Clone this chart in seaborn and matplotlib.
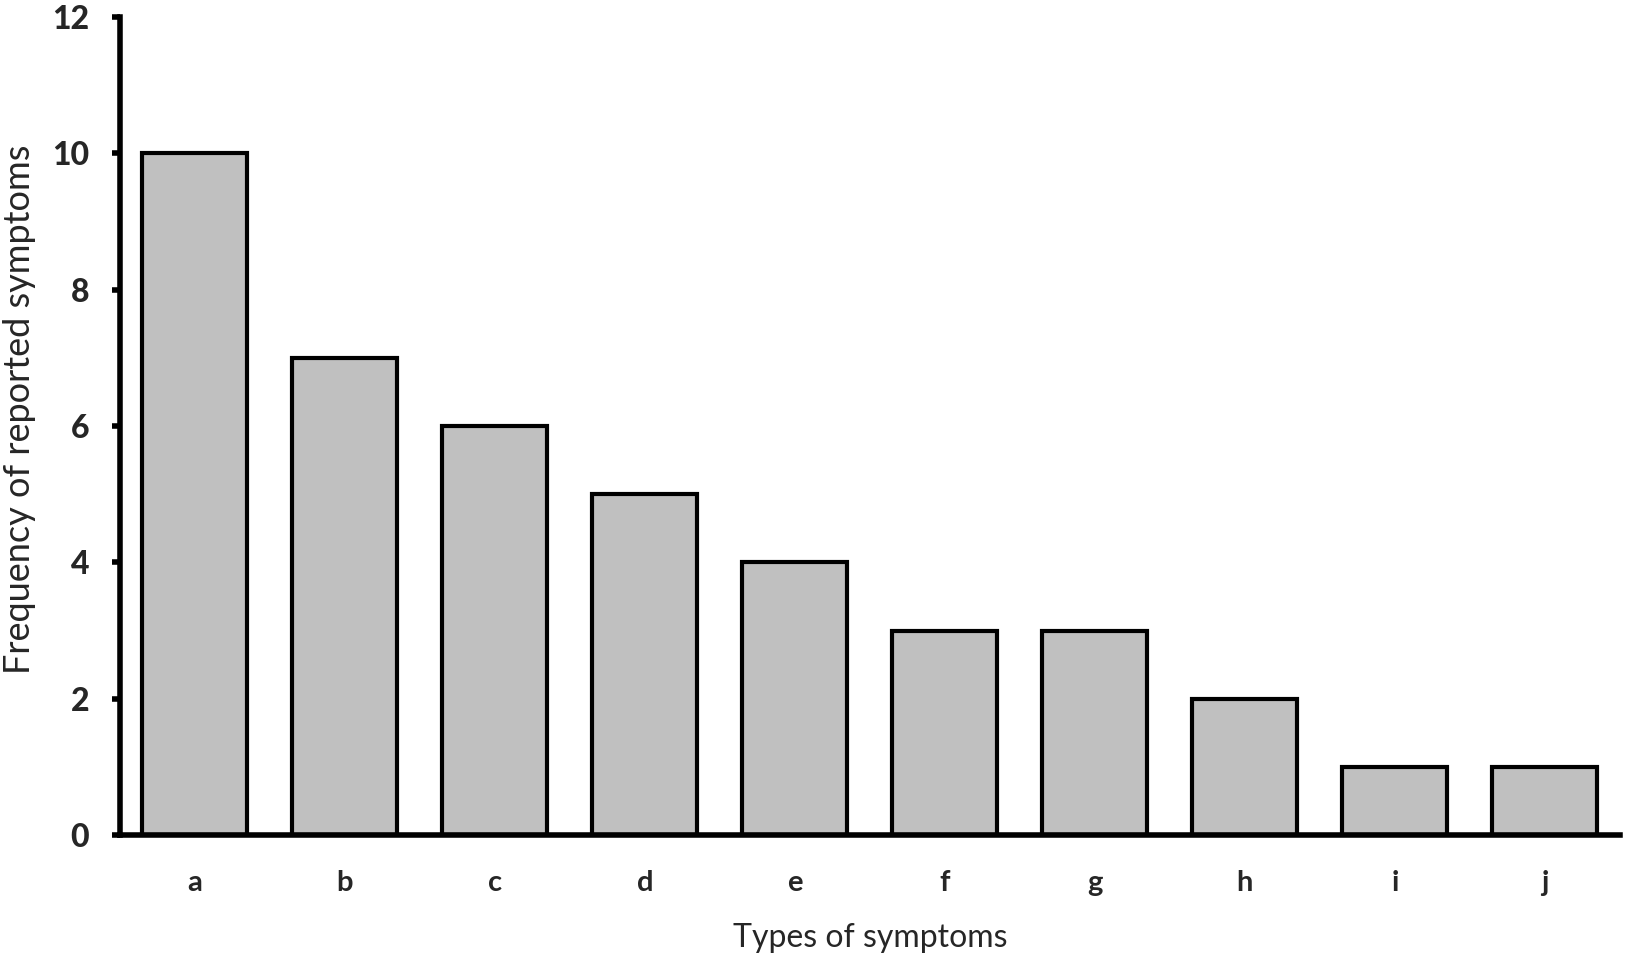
import matplotlib
matplotlib.use("Agg")
import matplotlib.pyplot as plt
import seaborn as sns
import pandas as pd

# data
symptoms = ["a", "b", "c", "d", "e", "f", "g", "h", "i", "j"]
frequency = [10, 7, 6, 5, 4, 3, 3, 2, 1, 1]
y_ticks = [0, 2, 4, 6, 8, 10, 12]

df = pd.DataFrame({"symptom": symptoms, "freq": frequency})

sns.set_theme(style="white")
plt.rcParams["font.family"] = ["Lato", "DejaVu Sans"]

fig = plt.figure(figsize=(16.25, 9.55), dpi=100)
ax = fig.add_axes([0.0738, 0.1257, 0.923, 0.8563])

sns.barplot(data=df, x="symptom", y="freq", color="#c0c0c0", width=0.7,
            edgecolor="black", linewidth=3, saturation=1, ax=ax)

ax.set_xlim(-0.5, 9.5)
ax.set_ylim(0, 12)
ax.set_yticks(y_ticks)
ax.set_yticklabels([str(t) for t in y_ticks], fontsize=23, fontweight="black")
ax.set_xticks(range(len(symptoms)))
ax.set_xticklabels(symptoms, fontsize=21, fontweight="bold")

for side in ["top", "right"]:
    ax.spines[side].set_visible(False)
for side in ["left", "bottom"]:
    ax.spines[side].set_linewidth(4)
    ax.spines[side].set_color("black")

ax.tick_params(axis="y", direction="out", length=6, width=4, color="black", pad=16, left=True)
ax.tick_params(axis="x", length=0, pad=25)

ax.set_xlabel("Types of symptoms", fontsize=23, labelpad=20)
ax.set_ylabel("Frequency of reported symptoms", fontsize=26, labelpad=12)
ax.yaxis.label.set_y(0.52)

fig.savefig("out.png", dpi=100)
